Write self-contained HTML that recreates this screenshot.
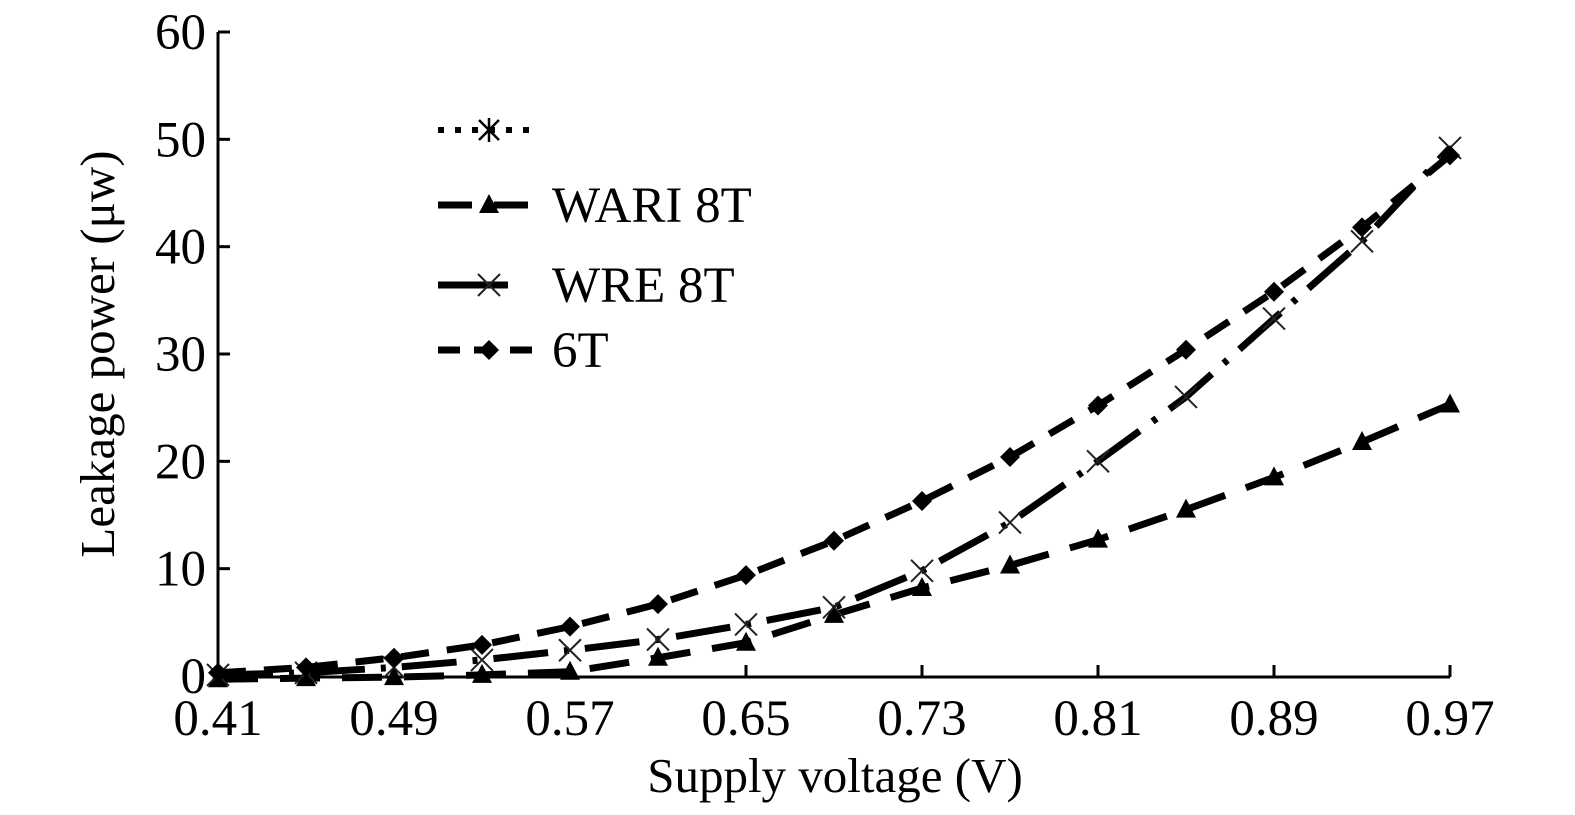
<!DOCTYPE html>
<html><head><meta charset="utf-8"><style>
html,body{margin:0;padding:0;background:#fff;}
svg{display:block;font-family:"Liberation Serif",serif;}
</style></head><body>
<svg id="chart" width="1575" height="815" viewBox="0 0 1575 815"></svg>
<script>
const voltages=[0.41,0.45,0.49,0.53,0.57,0.61,0.65,0.69,0.73,0.77,0.81,0.85,0.89,0.93,0.97];
const series6T=[0.3,0.8,1.7,2.9,4.6,6.7,9.4,12.6,16.3,20.4,25.2,30.4,35.8,41.8,48.5];
const seriesWARI=[-0.3,-0.2,-0.1,0.1,0.4,1.7,3.1,5.7,8.2,10.3,12.7,15.5,18.5,21.8,25.3];
const seriesWRE=[0.1,0.3,0.8,1.5,2.4,3.4,4.8,6.4,9.8,14.3,20.0,26.0,33.3,40.5,49.2];
const xTicks=[0.41,0.49,0.57,0.65,0.73,0.81,0.89,0.97];
const yTicks=[0,10,20,30,40,50,60];
const NS="http://www.w3.org/2000/svg";
const svg=document.getElementById('chart');
const X0=218,X1=1450,Y0=676,Y1=32;
function sx(v){return X0+(v-0.41)/(0.97-0.41)*(X1-X0);}
function sy(v){return Y0-(v/60)*(Y0-Y1);}
function mk(tag,attrs,parent){const e=document.createElementNS(NS,tag);for(const k in attrs)e.setAttribute(k,attrs[k]);(parent||svg).appendChild(e);return e;}
let ax=mk('line',{x1:X0,y1:Y1,x2:X0,y2:Y0+1,stroke:'#000','stroke-width':3});


ax=mk('line',{x1:X0,y1:Y0+1,x2:X1,y2:Y0+1,stroke:'#000','stroke-width':3});


yTicks.forEach(t=>{
  const l=mk('line',{x1:X0,y1:sy(t),x2:X0+12,y2:sy(t),stroke:'#000','stroke-width':3});
  
  
  const tx=mk('text',{x:X0-12,y:sy(t)+17,'text-anchor':'end','font-size':51});
  tx.textContent=t;
  
  
});
xTicks.forEach(t=>{
  const l=mk('line',{x1:sx(t),y1:Y0+1,x2:sx(t),y2:Y0-11,stroke:'#000','stroke-width':3});
  
  
  const tx=mk('text',{x:sx(t),y:735,'text-anchor':'middle','font-size':51});
  tx.textContent=t.toFixed(2);
  
  
});
let t=mk('text',{x:835,y:792,'text-anchor':'middle','font-size':49});
t.textContent='Supply voltage (V)';


t=mk('text',{x:0,y:0,'text-anchor':'middle','font-size':49,transform:'translate(114,354) rotate(-90)'});
t.textContent='Leakage power (\u03bcw)';



function marker(g,type,x,y){
  if(type==='tri'){mk('polygon',{points:`${x},${y-11} ${x-10},${y+8} ${x+10},${y+8}`,fill:'#000'},g);}
  else if(type==='dia'){mk('polygon',{points:`${x},${y-10} ${x+10},${y} ${x},${y+10} ${x-10},${y}`,fill:'#000'},g);}
  else if(type==='x'){mk('path',{d:`M${x-11},${y-11}L${x+11},${y+11}M${x+11},${y-11}L${x-11},${y+11}`,stroke:'#222','stroke-width':2,fill:'none'},g);}
  else if(type==='star'){mk('path',{d:`M${x-10},${y-10}L${x+10},${y+10}M${x+10},${y-10}L${x-10},${y+10}M${x},${y-12}L${x},${y+12}`,stroke:'#000','stroke-width':2.5,fill:'none'},g);}
}
function drawSeries(name,vals,dash,type){
  const g=mk('g',{});
  
  
  const d=vals.map((v,i)=>(i?'L':'M')+sx(voltages[i])+','+sy(v)).join('');
  mk('path',{d:d,fill:'none',stroke:'#000','stroke-width':7,'stroke-dasharray':dash},g);
  vals.forEach((v,i)=>marker(g,type,sx(voltages[i]),sy(v)));
}
drawSeries('series-wari-8t',seriesWARI,'40,22','tri');
drawSeries('series-wre-8t',seriesWRE,'55,16,5,16','x');
drawSeries('series-6t',series6T,'28,18','dia');

const leg=mk('g',{});


function legEntry(name,y,dash,type,label){
  const g=mk('g',{},leg);
  
  
  mk('line',{x1:438,y1:y,x2:540,y2:y,stroke:'#000','stroke-width':type==='star'?6:7,'stroke-dasharray':dash},g);
  marker(g,type,489,y);
  if(label){const tx=mk('text',{x:552,y:y+17,'font-size':51},g);tx.textContent=label;}
}
legEntry('legend-entry-unnamed',130,'6,11','star','');
legEntry('legend-entry-wari-8t',205,'34,22','tri','WARI 8T');
legEntry('legend-entry-wre-8t',285,'70,35,5,40','x','WRE 8T');
legEntry('legend-entry-6t',350,'22,14','dia','6T');
</script>
</body></html>
